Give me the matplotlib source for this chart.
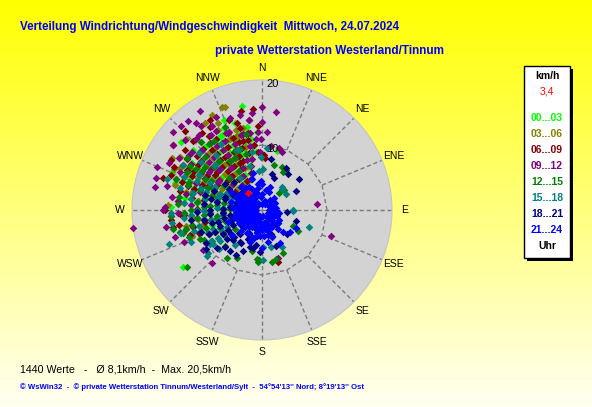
import numpy as np
import matplotlib
matplotlib.use("Agg")
import matplotlib.pyplot as plt
from matplotlib.patches import Rectangle

# ---------------- data ----------------
compass_labels = ['N', 'NNE', 'NE', 'ENE', 'E', 'ESE', 'SE', 'SSE',
                  'S', 'SSW', 'SW', 'WSW', 'W', 'WNW', 'NW', 'NNW']
hour_labels = ['00...03', '03...06', '06...09', '09...12',
               '12...15', '15...18', '18...21', '21...24']
group_colors = ['#00FF00', '#808000', '#800000', '#800080',
                '#008000', '#008080', '#000080', '#0000FF']

# (direction in degrees, speed in km/h) per 3-hour block
wind_00_03 = [(284,9),(288,11),(291,7),(295,12),(297,8),(300,10),(302,6),(304,13),(306,9),(308,11),
              (310,7),(311,12),(313,5),(315,10),(316,8),(318,13),(320,6),(321,11),(323,9),(325,7),
              (326,12),(328,10),(330,8),(332,13),(334,6),(336,11),(338,9),(340,12),(342,7),(345,10),
              (348,8),(351,11),(354,9),(296,5),(305,4),(312,6),(319,4),(327,5),(333,7),(339,5),
              (344,10),(299,14),(309,14),(317,15),(324,14),(331,13),(337,15),(302,8),(314,9),(322,10),
              (290,13),(286,6),(335,14),(343,12),(307,12),(349,16.3),(310,16.2),(254,13.1),(234,15),
              (253,8),(336,9),(14,9.4),(300,12.5),(276,10),(268,8),(262,11),(280,7),
              (282,12),(287,14),(293,15),(298,12),(301,11),(303,9),(305,7),(309,8),(312,10),(314,13),
              (317,12),(319,9),(321,7),(324,11),(326,6),(329,13),(331,10),(334,12),(337,8),(340,9),
              (343,14),(346,11),(350,13),(353,10),(356,12),(292,10),(296,8),(300,7),(306,11),(311,14),
              (316,10),(320,12),(325,9),(330,11),(335,10),(341,11),(347,13),(288,9),(279,12),(272,14)]
wind_03_06 = [(278,10),(283,12),(287,8),(292,11),(294,13),(298,7),(301,9),(303,12),(306,6),(309,10),
              (312,13),(314,8),(317,11),(319,7),(322,12),(324,9),(327,6),(329,11),(331,14),(334,8),
              (337,10),(341,12),(344,9),(347,13),(352,10),(289,5),(299,4),(311,5),(321,4),(333,5),
              (282,7),(275,12),(270,9),(265,11),(260,8),(305,14),(318,14),(326,8),(338,7),(296,10),
              (339,17),(333,15),(300,16),(297,14.1),(273,14.5),(255,9.5),(332,16.5),(256,9.4),
              (340,16.8),(250,11.5),(245,8),
              (281,9),(285,11),(290,12),(293,8),(297,11),(300,13),(304,10),(307,8),(310,11),(313,9),
              (316,12),(320,9),(323,13),(325,7),(328,10),(332,12),(335,9),(339,11),(342,13),(346,10),
              (350,12),(286,14),(295,15),(303,15),(313,16),(327,16),(268,12),(262,10),(258,12),(290,7),
              (308,6),(318,7),(330,9),(336,12),(300,9)]
wind_06_09 = [(280,11),(285,9),(289,13),(293,10),(296,12),(299,8),(301,11),(304,14),(307,9),(309,12),
              (312,7),(314,10),(316,13),(319,8),(321,11),(324,14),(326,9),(329,12),(331,7),(334,10),
              (336,13),(339,8),(341,11),(344,14),(347,9),(350,12),(353,10),(357,13),(294,6),(303,5),
              (313,4),(323,6),(333,5),(343,6),(286,7),(276,13),(271,10),(266,12),(258,9),(300,14),
              (315,15),(328,15),(345,11),(310,9),(320,10),(355,15.6),(348,15.6),(296,15),(267,12.6),
              (259,14),(163,8.4),(340,14.7),(270,15),(251,11.7),(250,10.3),(3,8),(2,8.5),(246,9),(240,7),
              (283,13),(287,11),(291,15),(295,9),(298,13),(302,10),(305,12),(308,15),(311,10),(313,13),
              (317,9),(320,12),(322,15),(325,10),(327,13),(330,16),(332,11),(335,8),(338,12),(342,10),
              (345,13),(349,11),(352,14),(356,9),(288,16),(299,16),(306,17),(316,17),(264,14),(260,13),
              (256,11),(280,9),(292,8),(304,8),(318,7),(328,8),(337,9),(346,7),(300,12),(310,13)]
wind_09_12 = [(282,12),(286,10),(290,14),(293,9),(297,13),(300,11),(302,15),(305,8),(308,12),(310,14),
              (313,9),(315,13),(318,11),(320,15),(323,8),(325,12),(328,10),(330,14),(333,9),(335,13),
              (338,11),(341,15),(343,8),(346,12),(349,10),(352,14),(355,11),(358,9),(291,6),(301,5),
              (311,6),(321,5),(331,6),(341,5),(278,14),(274,11),(268,13),(263,10),(256,12),(306,10),
              (316,7),(326,14),(336,7),(296,8),(312,11),(0,15.8),(8,15.2),(320,17.8),(323,16.8),
              (311,18.2),(292,17.5),(282,16.8),(270,15.2),(84,8.5),(111,11.3),(223,11.2),(15,9.9),
              (0,13.5),(8,9.9),(19,9.4),(162,7.8),(262,20),(359,11),(4,12),(248,13),(236,11),
              (284,15),(288,12),(292,11),(295,14),(299,10),(303,13),(307,14),(309,10),(312,16),(314,12),
              (317,15),(319,10),(322,13),(324,16),(327,11),(329,15),(332,12),(334,16),(337,13),(340,10),
              (344,12),(347,15),(351,12),(354,15),(357,12),(287,17),(297,16),(306,17),(316,18),(328,18),
              (276,13),(272,15),(266,14),(260,15),(253,14),(302,8),(314,9),(324,8),(338,10),(349,8)]
wind_12_15 = [(245,8),(250,10),(254,6),(258,11),(262,7),(265,9),(268,12),(271,5),(274,8),(277,10),
              (280,6),(283,11),(286,8),(289,12),(292,9),(295,6),(298,10),(301,13),(304,7),(307,11),
              (313,12),(319,10),(325,13),(332,9),(340,10),
              (260,4),(270,3),(280,4),(290,3),(300,5),(310,4),(240,6),(235,5),(248,4),(255,13),
              (266,14),(305,14),(318,14),(330,7),(344,9),(29,6.7),(117,5.4),(120,6.4),(169,8.2),
              (184,8),(216,9.1),(233,14.5),(15,7.2),(25,7.3),(31,7.1),(45,3.7),(154,7.4),(164,7.8),
              (184,7.7),(254,12.6),(245,10.5),(208,8.3),(194,6.5),(186,7.6),(48,4.6),(226,8),
              (247,7),(252,9),(256,12),(260,7),(263,10),(267,6),(270,11),(273,9),(276,7),(279,13),
              (282,9),(285,7),(288,10),(291,12),(294,8),(297,13),(300,9),(303,11),
              (312,10),(321,13),(327,9),(335,10),(243,10),
              (238,9),(250,12),(258,14),(274,13),(290,14),(302,12),(314,7),(336,14),(348,12)]
wind_15_18 = [(242,7),(247,9),(251,5),(256,10),(259,8),(263,6),(266,11),(269,9),(272,7),(275,12),
              (278,5),(281,9),(284,11),(287,7),(290,10),(293,13),(296,8),(299,11),(302,6),
              (308,12),(314,10),(320,11),(328,12),(338,10),(345,7),
              (252,3),(262,4),(272,3),(282,4),(292,5),(238,8),(232,6),(228,9),(300,14),(312,13),
              (326,6),(268,14),(350,9),(355,6),(288,15.4),(250,15.2),(237,9.5),(218,6.8),(1,6.3),
              (41,4.7),(92,4.8),(110,7.7),(179,7.7),(178,5.7),(166,5.9),(152,6.5),(359,8.2),(44,4.5),
              (56,4.4),(90,4.8),(239,9.2),(235,9.2),(231,10.6),(5,9.5),(200,5),(210,4),
              (244,6),(249,8),(253,11),(257,7),(261,9),(264,12),(267,8),(270,10),(273,6),(276,9),
              (279,11),(282,7),(285,13),(288,9),(291,7),(294,11),(297,9),
              (236,7),(240,10),(246,12),
              (254,13),(258,5),(266,4),(276,4),(286,5),(296,6),(244,4),(234,8),(230,11),(262,14)]
wind_18_21 = [(200,3),(205,5),(210,4),(215,6),(220,3),(225,5),(230,7),(235,4),(240,6),(245,8),
              (250,5),(255,7),(260,9),(265,6),(270,8),(275,5),(280,7),(285,9),(290,6),(295,4),
              (300,5),(305,7),(310,4),(315,6),(320,3),(190,4),(180,3),(170,2),(160,3),(250,10),
              (262,11),(240,10),(230,9),(285,4),(295,3),(305,3),(315,4),(225,2),(250,2),(275,2),
              (36,6.8),(50,7.4),(227,6.1),(235,10.5),(159,4.3),(190,5.5),(16,5.7),(21,5.3),(95,3.9),
              (108,5.5),(135,3),(20,1.3),(225,8),(224,6.4),(226,6),(134,5.3),(159,5.9),(129,3.2),
              (159,3.9),(183,6.5),(193,6),(10,8),(30,7.5),(60,6),
              (205,7),(212,6),(218,8),(222,5),(228,4),(232,6),(238,7),(242,5),(246,9),(249,7),
              (252,4),(256,8),(258,6),(262,5),(266,8),(268,10),(272,6),(276,9),(278,4),(282,8),
              (287,6),(292,8),(297,5),(302,6),(245,3),(258,3),(268,3),(282,3),(215,3),(230,3),
              (210,8),(198,6)]
wind_21_24 = [(0,1),(0,2.5),(0,4),(15,1.5),(20,3),(30,1),(40,2),(45,2.6),(60,1.2),(62,2.3),
              (75,1.8),(90,1),(90,2),(100,1.5),(110,2.5),(117,1),(125,2),(135,1.5),(135,2.2),(144,1.3),
              (150,3),(158,2.5),(164,3.4),(171,2),(175,1),(180,3),(185,4),(190,2),(192,3.6),(193,3.5),
              (198,1.5),(200,2.8),(206,4.3),(210,1),(212,2.4),(213,4.2),(218,3.3),(222,2),(225,4.6),
              (228,1.5),(232,3),(236,2.2),(240,4),(244,1),(248,3),(252,2),(255,4.5),(258,1.5),(262,3.2),
              (266,2.4),(270,1),(270,3.5),(274,4.5),(278,2),(282,3),(286,1.2),(290,4),(294,2.5),
              (298,3.5),(302,1.5),(306,4.2),(310,2.8),(314,2),(318,4.8),(322,3.2),(326,1),(330,1.2),
              (330,4),(334,2.2),(338,3),(342,5),(346,5.9),(350,3.5),(354,2),(358,4.5),(19,3.7),(27,1),
              (151,5.8),(136,4.7),(128,5.5),(118,5.9),(180,5.8),(160,4.5),(170,5),(140,3.8),(120,3),
              (100,2.6),(80,2.2),(300,5.5),(285,5),(250,5.5),(200,5.2),(230,6),
              (200,1),(205,2),(210,3),(215,1.8),(220,2.7),(225,3.8),(230,1.2),(235,3.5),(238,2.6),
              (242,1.7),(246,3.8),(250,1.2),(253,2.8),(256,3.6),(260,2.2),(264,4),(268,1.6),(272,2.8),
              (276,3.8),(280,1.4),(284,2.2),(288,3.4),(292,1.8),(296,4.4),(300,2.4),(304,3.2),(308,1.8),
              (312,3.8),(316,2.6),(320,1.6),(324,4.2),(328,2.6),(336,3.6),(344,2.8),(352,4),(170,3),
              (176,4),(182,2.4),(186,3),(195,4.5),(160,2),(166,4),(150,1.8),(140,2.7),(130,3.2),
              (110,1.8),(95,2.2),(70,1.6),(50,2.0),(10,3.2)]
wind_groups = [wind_00_03, wind_03_06, wind_06_09, wind_09_12,
               wind_12_15, wind_15_18, wind_18_21, wind_21_24]

current_dir, current_speed = 321, 3.4
current_label = '3,4'
r_max = 20
ring_value = 10

title_1 = 'Verteilung Windrichtung/Windgeschwindigkeit  Mittwoch, 24.07.2024'
title_2 = 'private Wetterstation Westerland/Tinnum'
stats_text = '1440 Werte   -   \u00d8 8,1km/h  -  Max. 20,5km/h'
copy_text = ('\u00a9 WsWin32  -  \u00a9 private Wetterstation Tinnum/Westerland/Sylt  -  '
             "54\u00b054'13'' Nord; 8\u00b019'13'' Ost")

# ---------------- figure ----------------
W, H = 592, 407
fig = plt.figure(figsize=(W / 100, H / 100), dpi=100)
bg = fig.add_axes([0, 0, 1, 1], zorder=0)
bg.set_xlim(0, W)
bg.set_ylim(H, 0)
bg.axis('off')
img = np.ones((H, 1, 3))
img[:, 0, 2] = np.linspace(0.0, 0.95, H)
bg.imshow(img, extent=[0, W, H, 0], aspect='auto', zorder=0)

NARROW = ['Liberation Sans Narrow', 'Liberation Sans', 'DejaVu Sans']
SANS = ['Liberation Sans', 'DejaVu Sans']
renderer = fig.canvas.get_renderer()


def fit(t, width):
    bb = t.get_window_extent(renderer)
    t.set_fontsize(t.get_fontsize() * width / bb.width)


blue_txt = '#0000FF'
t1 = bg.text(20, 30, title_1, color=blue_txt, fontsize=10, fontweight='bold',
             family=NARROW, ha='left', va='baseline')
fit(t1, 380)
t2 = bg.text(215, 54, title_2, color=blue_txt, fontsize=10, fontweight='bold',
             family=NARROW, ha='left', va='baseline')
fit(t2, 228)
t3 = bg.text(20, 369, stats_text, color='black', fontsize=8, family=SANS,
             ha='left', va='center')
fit(t3, 211)
t4 = bg.text(20, 387, copy_text, color=blue_txt, fontsize=6, fontweight='bold',
             family=NARROW, ha='left', va='center')
fit(t4, 350)

# legend box
bg.add_patch(Rectangle((527, 69), 46, 192, facecolor='black', edgecolor='none', zorder=2))
bg.add_patch(Rectangle((524, 66), 46, 192, facecolor='white', edgecolor='black',
                       linewidth=1, zorder=3))
bg.text(547, 76, 'km/h', ha='center', va='center', fontsize=7.5, fontweight='bold',
        family=SANS, color='black', zorder=4)
bg.text(547, 91, current_label, ha='center', va='center', fontsize=7.5,
        family=SANS, color='red', zorder=4)
for i, (lab, col) in enumerate(zip(hour_labels, group_colors)):
    bg.text(547, 118 + 16 * i, lab, ha='center', va='center', fontsize=7.5,
            fontweight='bold', family=SANS, color=col, zorder=4)
bg.text(547, 246, 'Uhr', ha='center', va='center', fontsize=7.5, fontweight='bold',
        family=SANS, color='black', zorder=4)

# ---------------- polar chart ----------------
cx, cy, R = 262, 210, 130
ax = fig.add_axes([(cx - R) / W, 1 - (cy + R) / H, 2 * R / W, 2 * R / H],
                  projection='polar', zorder=2)
ax.set_theta_zero_location('N')
ax.set_theta_direction(-1)
ax.set_ylim(0, r_max)
ax.set_xticks([])
ax.set_yticks([])
ax.grid(False)
ax.set_facecolor('#D3D3D3')
ax.spines['polar'].set_color('#C4C4C4')
ax.spines['polar'].set_linewidth(0.8)

dirs16 = np.arange(16) * 22.5
dash = (0, (3, 2))
grid_col = '#7A7A7A'
poly = np.deg2rad(np.append(dirs16, dirs16[0]))
ax.plot(poly, np.full(poly.shape, ring_value), ls=dash, color=grid_col, lw=1, zorder=1)
for d in dirs16:
    r0 = 0 if d % 90 == 0 else ring_value
    ax.plot([np.deg2rad(d)] * 2, [r0, r_max], ls=dash, color=grid_col, lw=1, zorder=1)

for d, lab in zip(dirs16, compass_labels):
    ax.text(np.deg2rad(d), 21.9, lab, ha='center', va='center', fontsize=7.5,
            family=SANS, color='black')

for pts, col in zip(wind_groups, group_colors):
    arr = np.array(pts, dtype=float)
    ax.scatter(np.deg2rad(arr[:, 0]), arr[:, 1], s=15, marker='D', c=col,
               linewidths=0, zorder=3, clip_on=False)
ax.scatter([np.deg2rad(current_dir)], [current_speed], s=15, marker='D', c='red',
           linewidths=0, zorder=4)

# ring value labels (on top of the chart)
fig.text(266 / W, 1 - 149 / H, str(ring_value), ha='left', va='center', fontsize=8,
         family=SANS, color='black', zorder=5)
fig.text(266 / W, 1 - 84 / H, str(r_max), ha='left', va='center', fontsize=8,
         family=SANS, color='black', zorder=5)

fig.savefig('out.png', dpi=100)
